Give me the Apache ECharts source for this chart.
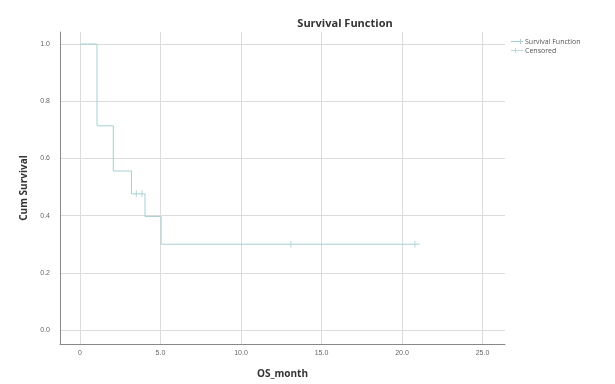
<!DOCTYPE html>
<html><head><meta charset="utf-8">
<script src="https://cdn.jsdelivr.net/npm/echarts@6/dist/echarts.min.js"></script>
<style>html,body{margin:0;padding:0;background:#fff}#c{width:615px;height:384px}</style>
</head><body><div id="c"></div>
<script>
// Kaplan-Meier steps (time in months, cumulative survival)
const stepTimes = [0, 1.06, 2.07, 3.2, 4.04, 5.04, 21.1];
const stepSurv  = [1.0, 0.714, 0.556, 0.476, 0.397, 0.30, 0.30];
// censored observations
const censorTimes = [3.5, 3.85, 13.1, 20.8];
const censorSurv  = [0.476, 0.476, 0.30, 0.30];
const xTicks = [0, 5, 10, 15, 20, 25];
const yTicks = [0, 0.2, 0.4, 0.6, 0.8, 1.0];

const lineColor = '#a9cfd2';
const chart = echarts.init(document.getElementById('c'), null, {renderer:'canvas'});
chart.setOption({
  animation:false,
  backgroundColor:'#fff',
  title:{text:'Survival Function', left:340, textAlign:'center', top:13,
    textStyle:{fontFamily:'Open Sans', fontSize:11, fontWeight:'bold', color:'#333'}},
  legend:{orient:'vertical', left:506, top:33, itemGap:2, itemWidth:12, itemHeight:5,
    textStyle:{fontFamily:'Open Sans', fontSize:7, color:'#555', padding:[0,0,0,-3]},
    data:[{name:'Survival Function', icon:'path://M0,2h12v1h-12zM9,0h1v5h-1z'},
          {name:'Censored', icon:'path://M0,2h12v1h-12zM4,0h1v5h-1z'}]},
  grid:{left:60, right:110, top:32, bottom:38},
  xAxis:{type:'value', min:-1.24, max:26.4,
    name:'OS_month', nameLocation:'middle', nameGap:25,
    nameTextStyle:{fontFamily:'Open Sans', fontSize:10, fontWeight:'bold', color:'#333'},
    axisLine:{show:true, onZero:false, lineStyle:{color:'#888'}},
    axisTick:{show:false, customValues:xTicks},
    axisLabel:{customValues:xTicks, fontSize:7, color:'#666', margin:6,
      formatter:v=> v===0?'0':v.toFixed(1)},
    splitLine:{show:true, lineStyle:{color:'#dcdcdc', width:1}}},
  yAxis:{type:'value', min:-0.049, max:1.042,
    name:'Cum Survival', nameLocation:'middle', nameGap:30, nameRotate:90,
    nameTextStyle:{fontFamily:'Open Sans', fontSize:10, fontWeight:'bold', color:'#333'},
    axisLine:{show:true, onZero:false, lineStyle:{color:'#888'}},
    axisTick:{show:false, customValues:yTicks},
    axisLabel:{customValues:yTicks, fontSize:7, color:'#666', margin:10,
      formatter:v=>v.toFixed(1)},
    splitLine:{show:true, lineStyle:{color:'#dcdcdc', width:1}}},
  series:[
    {name:'Survival Function', type:'line', step:'end', showSymbol:false,
      lineStyle:{color:lineColor, width:1}, itemStyle:{color:lineColor},
      data:stepTimes.map((t,i)=>[t,stepSurv[i]])},
    {name:'Censored', type:'scatter', symbol:'rect', symbolSize:[1,7],
      itemStyle:{color:lineColor},
      data:censorTimes.map((t,i)=>[t,censorSurv[i]])}
  ]
});
</script></body></html>
